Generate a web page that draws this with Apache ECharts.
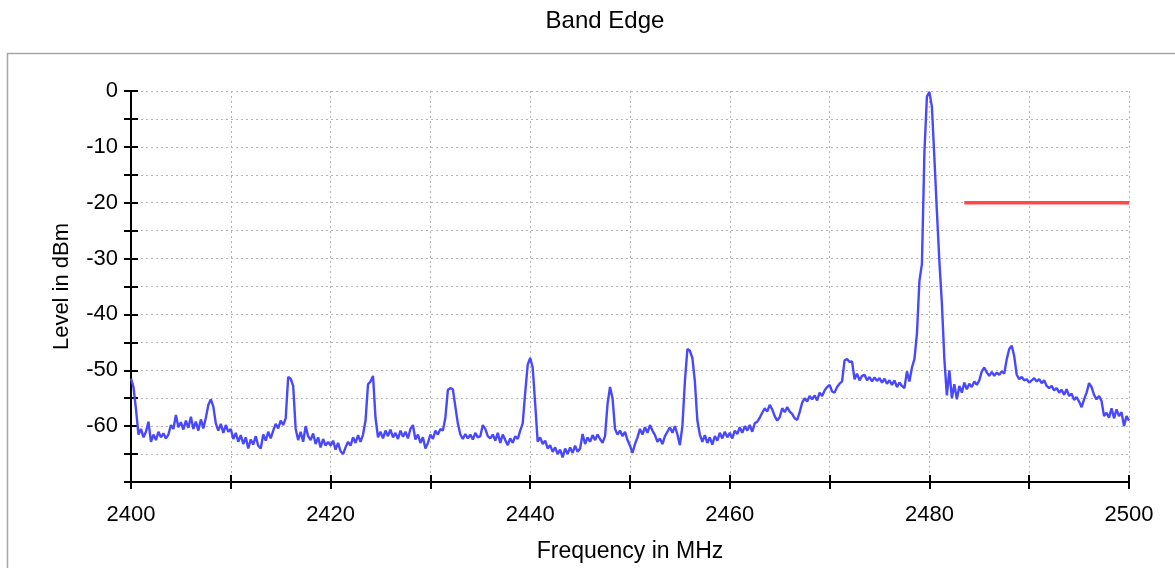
<!DOCTYPE html>
<html>
<head>
<meta charset="utf-8">
<title>Band Edge</title>
<script src="https://cdn.jsdelivr.net/npm/echarts@6/dist/echarts.min.js"></script>
<style>
  html, body { margin: 0; padding: 0; background: #ffffff; }
  #chart { width: 1175px; height: 568px; }
</style>
</head>
<body>
<div id="chart"></div>
<script>
// Spectrum sweep: 2400 MHz to 2500 MHz, one reading every 0.25 MHz
const sweepStartMHz = 2400;
const sweepStepMHz = 0.25;
const levelDbm = [
  // 2400.00 - 2404.75
  -51.5, -53, -57, -61.5, -60.5, -62, -61, -59.2, -62.8, -61.5, -62.5, -61, -62, -61.3, -62.2, -61.5, -59.8, -60.5, -58, -60.2,
  // 2405.00 - 2409.75
  -59.3, -60.6, -59, -60.3, -58.3, -60.5, -59.2, -60.8, -58.8, -60.4, -58.5, -56.2, -55.2, -56.5, -59.5, -60.8, -59.6, -61.2, -59.8, -61,
  // 2410.00 - 2414.75
  -60.5, -62.3, -61.2, -62.8, -61.6, -63.2, -62, -64, -62.4, -63.3, -61.8, -63.5, -64, -61.5, -62.6, -61, -62.2, -60.8, -59.6, -60.4,
  // 2415.00 - 2419.75
  -59, -59.8, -58.6, -51.2, -51.5, -52.8, -60.5, -62.5, -61, -62.8, -60, -61.8, -62.5, -61.3, -63.2, -62, -63.8, -62.3, -63.5, -62.8,
  // 2420.00 - 2424.75
  -63.5, -62.6, -64.2, -63, -64.5, -65, -63.8, -62.8, -63.5, -62, -63, -61.6, -62.8, -61.5, -59, -52.5, -52, -51, -58.5, -62,
  // 2425.00 - 2429.75
  -61, -62.2, -60.8, -61.8, -60.6, -62, -61.2, -62.3, -60.8, -61.9, -61, -62.2, -60.5, -59.8, -62.4, -61.5, -63, -62, -64, -63,
  // 2430.00 - 2434.75
  -61.5, -62.3, -60.8, -61.5, -60.5, -60.8, -58.5, -53.5, -53.2, -53.4, -56.5, -59.5, -61.5, -62.3, -61.4, -62.2, -61.5, -62.4, -61.2, -62,
  // 2435.00 - 2439.75
  -61.8, -59.8, -60.5, -61.8, -62.2, -61.5, -62.6, -61.2, -63, -61.5, -62.5, -63.4, -62.2, -63, -61.8, -62.3, -60.8, -59.5, -54, -49,
  // 2440.00 - 2444.75
  -47.8, -49.5, -56, -62.8, -62, -63.2, -62.6, -64, -63.4, -64.6, -63.8, -65, -64.2, -65.6, -64, -65, -63.8, -64.8, -63.5, -64.6,
  // 2445.00 - 2449.75
  -64, -61.4, -63.2, -62, -62.8, -61.6, -62.5, -61.5, -62.3, -63, -61.8, -56, -53, -55, -60.5, -61.5, -60.8, -61.8, -61, -62.5,
  // 2450.00 - 2454.75
  -63.5, -64.8, -63.2, -62, -60.5, -61.5, -60.2, -61.2, -59.8, -60.8, -61.6, -62.8, -62.2, -63.2, -61.8, -61, -60.2, -61.2, -60, -61.5,
  // 2455.00 - 2459.75
  -63.4, -60, -52, -46.2, -46.5, -47.8, -52, -59, -61.5, -62.8, -61.6, -63, -62, -63.3, -61.8, -62.6, -61.2, -62.2, -61, -62,
  // 2460.00 - 2464.75
  -61.2, -62.2, -60.8, -61.4, -60.2, -61.2, -60, -60.8, -59.8, -61, -59.5, -59.2, -58.5, -57.6, -56.8, -57.4, -56.2, -57, -58.2, -59,
  // 2465.00 - 2469.75
  -58.4, -56.8, -57.5, -56.6, -57.4, -57.8, -58.6, -58.9, -57.5, -55.8, -55, -55.6, -54.6, -55.2, -54.5, -55.4, -54, -54.6, -53.6, -53,
  // 2470.00 - 2474.75
  -52.6, -53.8, -54, -53, -52.4, -52, -48.2, -48, -48.5, -48.4, -51.6, -50.6, -51.8, -51, -50.8, -51.8, -51.2, -52, -51.3, -51.9,
  // 2475.00 - 2479.75
  -51.4, -52.2, -51.5, -52.4, -51.8, -52.6, -51.8, -53, -52.2, -52.8, -53.2, -50.2, -52, -49.5, -48, -43.5, -34, -31, -11, -1,
  // 2480.00 - 2484.75
  -0.2, -2.8, -12, -21.5, -30.5, -38, -48, -54.5, -50, -55, -52.5, -55.2, -52.8, -54, -52.2, -53.4, -52.4, -53, -52, -52.6,
  // 2485.00 - 2489.75
  -51.8, -50.2, -49.5, -50.4, -51, -50.3, -51, -50.4, -50.8, -50.2, -50.6, -48, -46.2, -45.6, -47.5, -50.8, -51.6, -51.2, -51.8, -51.6,
  // 2490.00 - 2494.75
  -52.2, -51.8, -51.4, -52, -51.6, -52.3, -51.8, -52.8, -53.2, -52.8, -53.6, -53.2, -54, -53.5, -54.4, -53.4, -54.6, -54.2, -55.3, -54.8,
  // 2495.00 - 2500.00
  -55.6, -56.6, -55.2, -54, -52.3, -53, -54.4, -55.2, -54.6, -55.5, -58.2, -57.6, -58.5, -56.8, -58.6, -57, -58.2, -57.5, -60, -58.2, -59
];

// Emission limit line: -20 dBm from the restricted-band edge to the end of the sweep
const limitFreqMHz = [2483.5, 2500];
const limitLevelDbm = [-20, -20];

// Axis settings
const freqRange = [2400, 2500];
const freqTickStep = 10;
const freqLabelStep = 20;
const levelRange = [-70, 0];
const levelTickStep = 5;
const levelLabelStep = 10;

const traceData = levelDbm.map((v, i) => [sweepStartMHz + i * sweepStepMHz, v]);
const limitData = limitFreqMHz.map((f, i) => [f, limitLevelDbm[i]]);

const FONT = '"Liberation Sans", Arial, sans-serif';
const gridLine = { show: true, lineStyle: { color: '#b4b4b4', width: 1, type: [2, 3] } };
const tickStyle = { color: '#000', width: 2 };

const chart = echarts.init(document.getElementById('chart'), null, { renderer: 'canvas' });
chart.setOption({
  animation: false,
  backgroundColor: '#ffffff',
  graphic: [{
    type: 'rect',
    z: -10,
    silent: true,
    shape: { x: 7.5, y: 53.5, width: 1300, height: 700 },
    style: { fill: '#ffffff', stroke: '#a6a6a6', lineWidth: 1.5 }
  }],
  title: {
    text: 'Band Edge',
    left: 600,
    top: 4,
    textAlign: 'center',
    textStyle: { fontFamily: FONT, fontSize: 24, fontWeight: 'normal', color: '#000' }
  },
  grid: { left: 131, right: 46, top: 91, bottom: 85, containLabel: false },
  xAxis: [{
    type: 'value',
    min: freqRange[0], max: freqRange[1], interval: freqTickStep,
    name: 'Frequency in MHz',
    nameLocation: 'middle',
    nameGap: 58,
    nameTextStyle: { fontFamily: FONT, fontSize: 23, color: '#000' },
    axisLine: { show: true, onZero: false, lineStyle: { color: '#000', width: 2 } },
    axisTick: { show: true, length: 7, lineStyle: tickStyle },
    axisLabel: {
      margin: 22,
      fontFamily: FONT, fontSize: 22, color: '#000',
      formatter: v => (v % freqLabelStep === 0 ? String(v) : '')
    },
    splitLine: gridLine
  }, {
    type: 'value',
    position: 'bottom',
    min: freqRange[0], max: freqRange[1], interval: freqTickStep,
    axisLine: { show: false, onZero: false },
    axisTick: { show: true, inside: true, length: 7, lineStyle: tickStyle },
    axisLabel: { show: false },
    splitLine: { show: false }
  }],
  yAxis: [{
    type: 'value',
    min: levelRange[0], max: levelRange[1], interval: levelTickStep,
    name: 'Level in dBm',
    nameLocation: 'middle',
    nameGap: 58,
    nameTextStyle: { fontFamily: FONT, fontSize: 22, color: '#000' },
    axisLine: { show: true, onZero: false, lineStyle: { color: '#000', width: 2 } },
    axisTick: { show: true, length: 7, lineStyle: tickStyle },
    axisLabel: {
      margin: 13,
      fontFamily: FONT, fontSize: 22, color: '#000',
      formatter: v => (v % levelLabelStep === 0 && v !== levelRange[0] ? String(v) : '')
    },
    splitLine: gridLine
  }, {
    type: 'value',
    position: 'left',
    min: levelRange[0], max: levelRange[1], interval: levelTickStep,
    axisLine: { show: false, onZero: false },
    axisTick: { show: true, inside: true, length: 7, lineStyle: tickStyle },
    axisLabel: { show: false },
    splitLine: { show: false }
  }],
  series: [{
    name: 'Level',
    type: 'line',
    data: traceData,
    showSymbol: false,
    symbol: 'none',
    lineStyle: { color: '#4848ff', width: 2.4 },
    z: 3
  }, {
    name: 'Limit',
    type: 'line',
    data: limitData,
    showSymbol: false,
    symbol: 'none',
    lineStyle: { color: '#ff4848', width: 3.5 },
    z: 4
  }]
});
</script>
</body>
</html>
